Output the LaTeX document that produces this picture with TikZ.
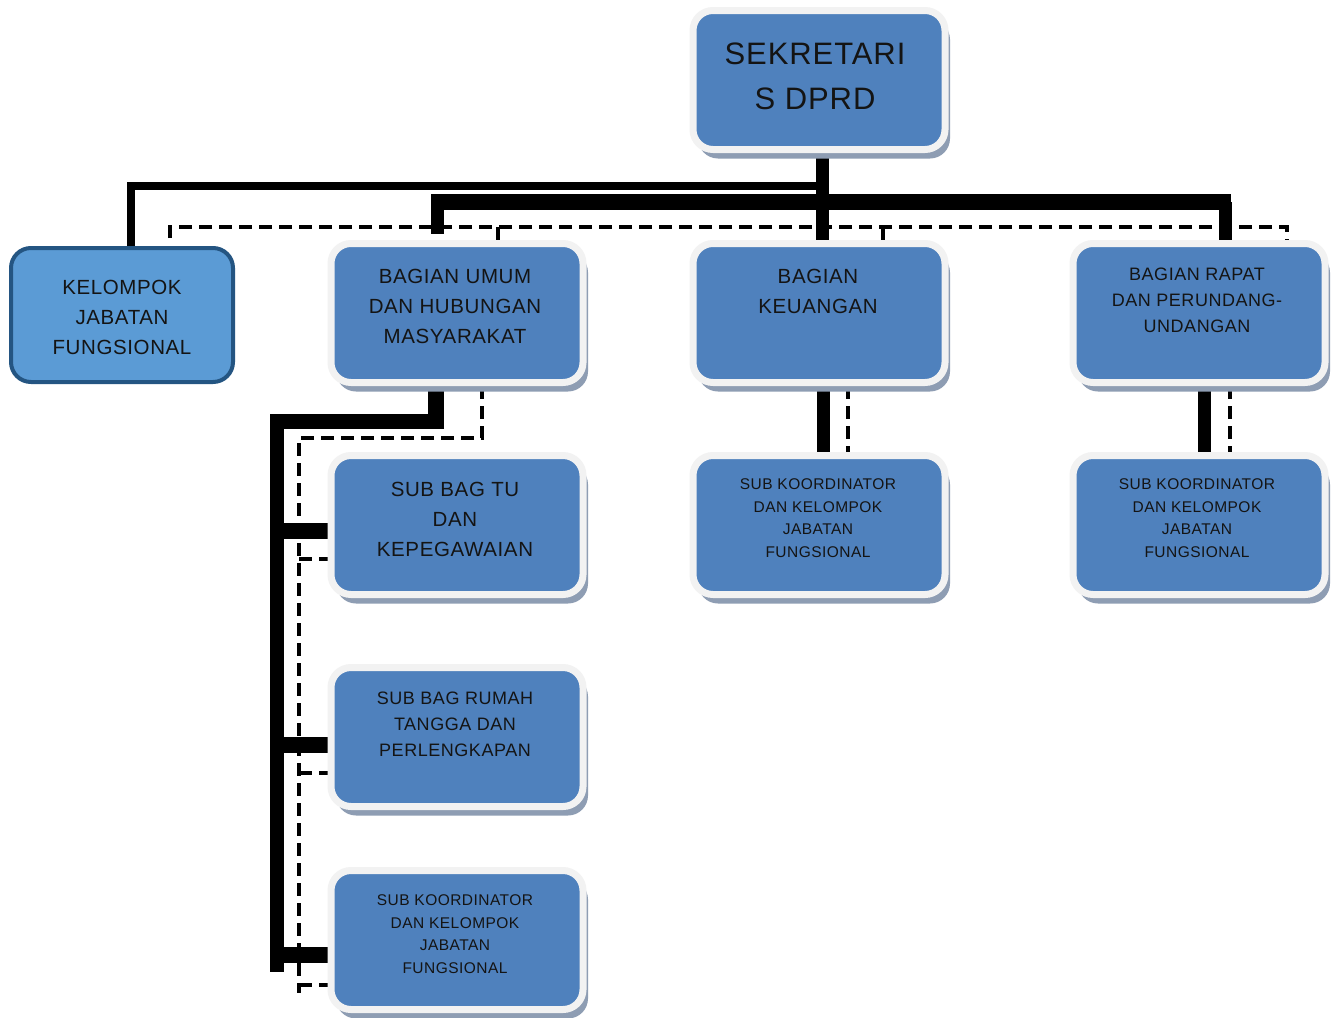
\documentclass[tikz,border=0pt]{standalone}
\usepackage{fontspec}
\setmainfont{Liberation Sans}[LetterSpace=3]
\usetikzlibrary{shadows,backgrounds}
\definecolor{boxblue}{HTML}{4F81BD}
\definecolor{kjfblue}{HTML}{5B9BD5}
\definecolor{kjfedge}{HTML}{245582}
\definecolor{rim}{HTML}{F2F2F2}
\definecolor{shade}{HTML}{8E9DB3}
\definecolor{ink}{HTML}{141414}
\begin{document}
\begin{tikzpicture}[x=1pt,y=-1pt,
 orgbox/.style={draw=rim, fill=boxblue, line width=7pt, rounded corners=20pt,
   minimum width=252pt, minimum height=139pt, inner sep=0pt,
   drop shadow={shadow xshift=5pt, shadow yshift=-9pt, fill=shade, opacity=1}},
 kjfbox/.style={draw=kjfedge, fill=kjfblue, line width=4pt, rounded corners=20pt,
   minimum width=222pt, minimum height=134pt, inner sep=0pt},
 txt/.style={align=center, text=ink, inner sep=0pt},
 big/.style={font=\fontsize{31}{45}\selectfont},
 mid/.style={font=\fontsize{20.5}{30}\selectfont},
 sml/.style={font=\fontsize{18}{26}\selectfont},
 tiny/.style={font=\fontsize{15.5}{22.5}\selectfont},
 solid1/.style={line width=8pt},
 solid2/.style={line width=13pt},
 solid3/.style={line width=16pt},
 dash1/.style={line width=4.5pt, dash pattern=on 13pt off 7pt}
]
\useasboundingbox (0,0) rectangle (1338,1017);

% boxes
\node[orgbox] (sek) at (819,80) {};
\node[kjfbox] (kjf) at (122,315) {};
\node[orgbox] (umum) at (457,313) {};
\node[orgbox] (keu) at (819,313) {};
\node[orgbox] (rapat) at (1199,313) {};
\node[orgbox] (tu) at (457,525) {};
\node[orgbox] (skm) at (819,525) {};
\node[orgbox] (skr) at (1199,525) {};
\node[orgbox] (rt) at (457,737) {};
\node[orgbox] (skb) at (457,940) {};

% texts
\node[txt,big] (sekt) at (815,76) {SEKRETARI\\S DPRD};
\node[txt,mid] (kjft) at (122,317) {KELOMPOK\\JABATAN\\FUNGSIONAL};
\node[txt,mid] (umumt) at (455,306) {BAGIAN UMUM\\DAN HUBUNGAN\\MASYARAKAT};
\node[txt,mid] (keut) at (818,291) {BAGIAN\\KEUANGAN};
\node[txt,sml] (rapatt) at (1197,300) {BAGIAN RAPAT\\DAN PERUNDANG-\\UNDANGAN};
\node[txt,mid] (tut) at (455,519) {SUB BAG TU\\DAN\\KEPEGAWAIAN};
\node[txt,tiny] (skmt) at (818,518) {SUB KOORDINATOR\\DAN KELOMPOK\\JABATAN\\FUNGSIONAL};
\node[txt,tiny] (skrt) at (1197,518) {SUB KOORDINATOR\\DAN KELOMPOK\\JABATAN\\FUNGSIONAL};
\node[txt,sml] (rtt) at (455,724) {SUB BAG RUMAH\\TANGGA DAN\\PERLENGKAPAN};
\node[txt,tiny] (skbt) at (455,934) {SUB KOORDINATOR\\DAN KELOMPOK\\JABATAN\\FUNGSIONAL};

% connector coordinates
\coordinate (jthin) at (822,186);
\coordinate (barL) at (437,202);
\coordinate (barR) at (1225,202);
\coordinate (dL) at (170,227);
\coordinate (dR) at (1287,227);
\coordinate (uA) at (436,421);
\coordinate (uB) at (277,421);
\coordinate (uC) at (277,972);
\coordinate (vA) at (482,438);
\coordinate (vB) at (299,438);
\coordinate (vC) at (299,993);

\begin{scope}[on background layer]
 \fill[white] (0,0) rectangle (1338,1017);
 % from sekretaris
 \draw[solid2] ([xshift=3pt]sek.south) -- ([xshift=3pt]keu.north);
 \draw[solid1] (jthin) -| ([xshift=9pt]kjf.north);
 \draw[solid3] ([xshift=-6pt]barL) -- ([xshift=6pt]barR);
 \draw[solid2] (barL) -- ([xshift=-20pt,yshift=6pt]umum.north);
 \draw[solid2] (barR) -- ([xshift=26pt]rapat.north);
 \draw[dash1] ([yshift=8pt]dL |- kjf.north) |- (dR) -- ([xshift=88pt]rapat.north);
 \draw[dash1] ([xshift=41pt]umum.north |- dL) -- ([xshift=41pt,yshift=-4pt]umum.north);
 \draw[dash1] ([xshift=64pt]keu.north |- dL) -- ([xshift=64pt]keu.north);
 % under bagian umum
 \draw[line width=16pt] ([xshift=-21pt]umum.south) -- ([yshift=-7.5pt]uA);
 \draw[line width=15pt] ([xshift=8pt]uA) -- ([xshift=-7pt]uB);
 \draw[line width=14pt] (uB) -- (uC);
 \draw[solid3] ([xshift=-7pt,yshift=-6pt]uB |- tu.west) -- ([yshift=-6pt]tu.west);
 \draw[solid3] ([xshift=-7pt,yshift=-8pt]uB |- rt.west) -- ([yshift=-8pt]rt.west);
 \draw[solid3] ([xshift=-7pt,yshift=-15pt]uB |- skb.west) -- ([yshift=-15pt]skb.west);
 \draw[dash1] ([xshift=25pt]umum.south) |- (vB) -- (vC);
 \draw[dash1] ([yshift=-34pt]vB |- tu.west) -- ([yshift=-34pt]tu.west);
 \draw[dash1] ([yshift=-36pt]vB |- rt.west) -- ([yshift=-36pt]rt.west);
 \draw[dash1] ([yshift=-45pt]vB |- skb.west) -- ([yshift=-45pt]skb.west);
 % keuangan and rapat
 \draw[solid2] ([xshift=4pt]keu.south) -- ([xshift=4pt]skm.north);
 \draw[dash1] ([xshift=29pt]keu.south) -- ([xshift=29pt]skm.north);
 \draw[solid2] ([xshift=5pt]rapat.south) -- ([xshift=5pt]skr.north);
 \draw[dash1] ([xshift=31pt]rapat.south) -- ([xshift=31pt]skr.north);
\end{scope}
\end{tikzpicture}
\end{document}
